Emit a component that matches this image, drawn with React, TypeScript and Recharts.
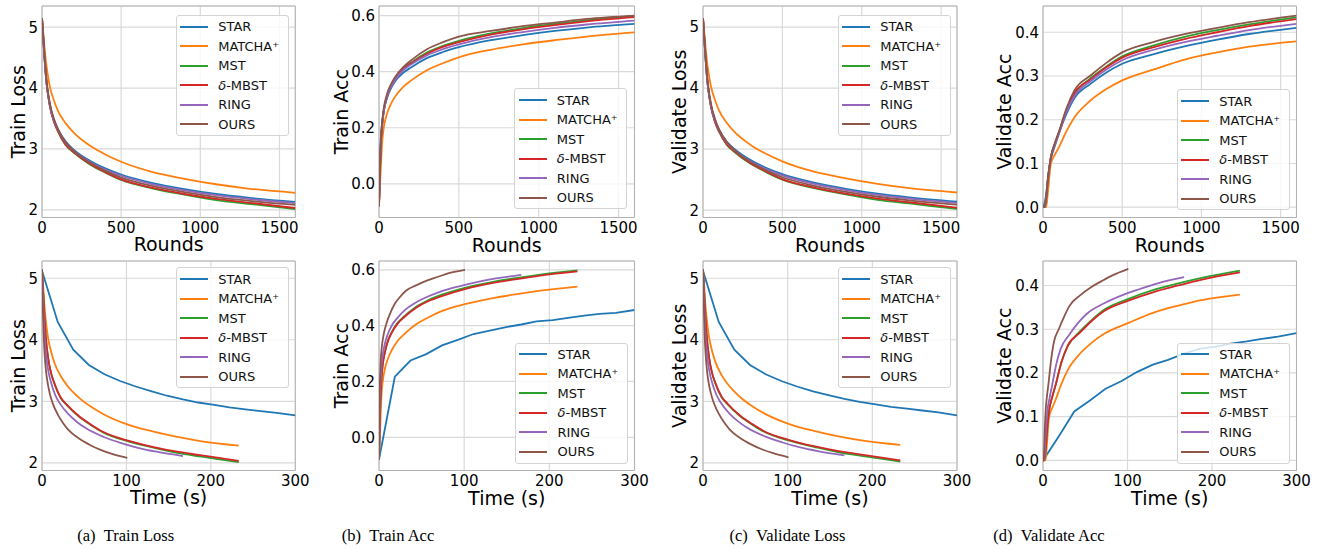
import React from 'react';
import { LineChart, Line, XAxis, YAxis, CartesianGrid, ReferenceArea, Legend } from 'recharts';

const FONT = '"DejaVu Sans", sans-serif';

const seriesNames = ['STAR', 'MATCHA⁺', 'MST', 'δ-MBST', 'RING', 'OURS'];
const seriesColors = ['#1f77b4', '#ff7f0e', '#2ca02c', '#d62728', '#9467bd', '#8c564b'];

const rounds = [0, 10, 20, 30, 50, 75, 100, 150, 200, 300, 400, 500, 700, 900, 1100, 1300, 1600];
const roundTicks = [0, 500, 1000, 1500];
const timeTicks = [0, 100, 200, 300];
const lossTicks = [2, 3, 4, 5];
const trainAccTicks = [0, 0.2, 0.4, 0.6];
const valAccTicks = [0, 0.1, 0.2, 0.3, 0.4];

// wall-clock time of the logged rounds (MATCHA+/MST/δ-MBST finish at 233 s, RING at 167 s, OURS at 101 s)
const timeSlow = [0, 1.5, 2.9, 4.4, 7.3, 10.9, 14.6, 21.8, 29.1, 43.7, 58.2, 72.8, 101.9, 131.0, 160.2, 189.3, 233];
const timeRing = [0, 1.0, 2.1, 3.1, 5.2, 7.8, 10.4, 15.7, 20.9, 31.3, 41.8, 52.2, 73.1, 94.0, 114.8, 135.7, 167];
const timeOurs = [0, 0.6, 1.3, 1.9, 3.2, 4.7, 6.3, 9.5, 12.6, 18.9, 25.3, 31.6, 44.2, 56.8, 69.4, 82.0, 101];
const timeStar = [0, 18.6, 37, 55.5, 74, 92.5, 111, 130, 148, 167, 185, 204, 222, 241, 259, 278, 300];

// train loss
const trainLossStar = [5.15, 4.72, 4.33, 4.05, 3.72, 3.48, 3.33, 3.12, 2.99, 2.81, 2.68, 2.58, 2.44, 2.34, 2.26, 2.2, 2.13];
const trainLossMatcha = [5.15, 4.85, 4.55, 4.33, 4.02, 3.8, 3.63, 3.42, 3.27, 3.06, 2.91, 2.79, 2.62, 2.51, 2.42, 2.35, 2.28];
const trainLossMst = [5.15, 4.74, 4.36, 4.06, 3.7, 3.45, 3.29, 3.06, 2.94, 2.75, 2.61, 2.49, 2.35, 2.25, 2.16, 2.1, 2.01];
const trainLossMbst = [5.15, 4.74, 4.36, 4.06, 3.7, 3.45, 3.3, 3.07, 2.95, 2.76, 2.62, 2.5, 2.36, 2.26, 2.18, 2.12, 2.03];
const trainLossRing = [5.15, 4.72, 4.33, 4.05, 3.71, 3.47, 3.32, 3.1, 2.97, 2.79, 2.66, 2.56, 2.42, 2.32, 2.24, 2.18, 2.11];
const trainLossOurs = [5.15, 4.78, 4.4, 4.1, 3.75, 3.5, 3.33, 3.11, 2.97, 2.78, 2.64, 2.53, 2.39, 2.29, 2.21, 2.15, 2.08];
const trainLossStarTime = [5.12, 4.29, 3.84, 3.59, 3.44, 3.33, 3.24, 3.16, 3.09, 3.03, 2.98, 2.94, 2.9, 2.87, 2.84, 2.81, 2.77];

// train accuracy
const trainAccStar = [-0.08, 0.15, 0.22, 0.26, 0.305, 0.34, 0.365, 0.395, 0.415, 0.448, 0.47, 0.487, 0.512, 0.53, 0.545, 0.557, 0.57];
const trainAccMatcha = [-0.08, 0.04, 0.15, 0.2, 0.25, 0.285, 0.31, 0.345, 0.368, 0.405, 0.43, 0.451, 0.478, 0.497, 0.512, 0.525, 0.54];
const trainAccMst = [-0.08, 0.12, 0.21, 0.26, 0.31, 0.35, 0.375, 0.41, 0.432, 0.468, 0.492, 0.51, 0.536, 0.555, 0.57, 0.583, 0.598];
const trainAccMbst = [-0.08, 0.12, 0.21, 0.26, 0.31, 0.348, 0.372, 0.407, 0.429, 0.464, 0.488, 0.505, 0.532, 0.551, 0.566, 0.579, 0.594];
const trainAccRing = [-0.08, 0.13, 0.21, 0.26, 0.31, 0.346, 0.37, 0.404, 0.425, 0.458, 0.48, 0.497, 0.523, 0.541, 0.556, 0.568, 0.582];
const trainAccOurs = [-0.08, 0.13, 0.22, 0.27, 0.32, 0.355, 0.38, 0.415, 0.44, 0.48, 0.505, 0.525, 0.545, 0.562, 0.575, 0.588, 0.6];
const trainAccStarTime = [-0.08, 0.217, 0.275, 0.298, 0.329, 0.349, 0.37, 0.382, 0.394, 0.404, 0.415, 0.42, 0.428, 0.436, 0.442, 0.446, 0.456];

// validate loss
const valLossStar = [5.15, 4.72, 4.33, 4.05, 3.72, 3.48, 3.33, 3.12, 3.0, 2.82, 2.69, 2.59, 2.45, 2.35, 2.27, 2.21, 2.14];
const valLossMatcha = [5.15, 4.86, 4.56, 4.34, 4.03, 3.81, 3.64, 3.43, 3.28, 3.07, 2.92, 2.8, 2.63, 2.52, 2.43, 2.36, 2.29];
const valLossMst = [5.15, 4.74, 4.36, 4.06, 3.7, 3.45, 3.29, 3.07, 2.95, 2.76, 2.62, 2.5, 2.36, 2.26, 2.17, 2.11, 2.02];
const valLossMbst = [5.15, 4.74, 4.36, 4.06, 3.7, 3.45, 3.3, 3.08, 2.96, 2.77, 2.63, 2.51, 2.37, 2.27, 2.19, 2.13, 2.04];
const valLossRing = [5.15, 4.72, 4.33, 4.05, 3.71, 3.47, 3.32, 3.11, 2.98, 2.8, 2.67, 2.57, 2.43, 2.33, 2.25, 2.19, 2.12];
const valLossOurs = [5.15, 4.78, 4.4, 4.1, 3.75, 3.5, 3.33, 3.12, 2.98, 2.79, 2.65, 2.54, 2.4, 2.3, 2.22, 2.16, 2.09];
const valLossStarTime = [5.12, 4.29, 3.84, 3.59, 3.44, 3.33, 3.24, 3.16, 3.1, 3.04, 2.99, 2.95, 2.91, 2.88, 2.85, 2.82, 2.77];

// validate accuracy
const valAccStar = [0.0, 0.01, 0.03, 0.065, 0.11, 0.14, 0.168, 0.215, 0.25, 0.282, 0.308, 0.328, 0.35, 0.368, 0.383, 0.396, 0.41];
const valAccMatcha = [0.0, 0.0, 0.0, 0.03, 0.1, 0.12, 0.137, 0.175, 0.206, 0.244, 0.27, 0.29, 0.315, 0.338, 0.354, 0.367, 0.379];
const valAccMst = [0.0, 0.0, 0.02, 0.06, 0.115, 0.145, 0.17, 0.225, 0.26, 0.295, 0.322, 0.345, 0.37, 0.39, 0.405, 0.418, 0.434];
const valAccMbst = [0.0, 0.0, 0.02, 0.06, 0.115, 0.145, 0.17, 0.224, 0.262, 0.292, 0.32, 0.342, 0.366, 0.385, 0.4, 0.414, 0.43];
const valAccRing = [0.0, 0.0, 0.02, 0.06, 0.113, 0.143, 0.168, 0.22, 0.255, 0.288, 0.315, 0.336, 0.36, 0.378, 0.392, 0.405, 0.419];
const valAccOurs = [0.0, 0.0, 0.02, 0.06, 0.115, 0.147, 0.172, 0.228, 0.268, 0.301, 0.33, 0.354, 0.378, 0.396, 0.41, 0.423, 0.438];
const valAccStarTime = [0.0, 0.055, 0.112, 0.137, 0.164, 0.181, 0.202, 0.219, 0.23, 0.244, 0.255, 0.26, 0.267, 0.272, 0.278, 0.283, 0.291];

type Series = { xs: number[]; ys: number[]; linear?: boolean };

const zip = (xs: number[], ys: number[]) => xs.map((x, i) => ({ x, y: ys[i] }));

const byRounds = (vals: number[][]): Series[] => vals.map((ys) => ({ xs: rounds, ys }));
const byTime = (starTime: number[], vals: number[][]): Series[] => [
  { xs: timeStar, ys: starTime, linear: true },
  { xs: timeSlow, ys: vals[1] },
  { xs: timeSlow, ys: vals[2] },
  { xs: timeSlow, ys: vals[3] },
  { xs: timeRing, ys: vals[4] },
  { xs: timeOurs, ys: vals[5] },
];

const trainLoss = [trainLossStar, trainLossMatcha, trainLossMst, trainLossMbst, trainLossRing, trainLossOurs];
const trainAcc = [trainAccStar, trainAccMatcha, trainAccMst, trainAccMbst, trainAccRing, trainAccOurs];
const valLoss = [valLossStar, valLossMatcha, valLossMst, valLossMbst, valLossRing, valLossOurs];
const valAcc = [valAccStar, valAccMatcha, valAccMst, valAccMbst, valAccRing, valAccOurs];

const renderName = (name: string) =>
  name.startsWith('δ') ? (
    <>
      <i>δ</i>
      {name.slice(1)}
    </>
  ) : (
    name
  );

// legend keeps the plotting order (recharts would sort the payload by name)
const LegendBox = () => (
  <div
    style={{
      background: 'rgba(255,255,255,0.8)',
      border: '1px solid #d4d4d4',
      borderRadius: 3,
      padding: '1px 0',
      width: 111,
      boxSizing: 'content-box',
      fontFamily: FONT,
      fontSize: 13,
      color: '#111',
    }}
  >
    {seriesNames.map((name, i) => (
      <div key={name} style={{ height: 19.5, display: 'flex', alignItems: 'center', whiteSpace: 'nowrap' }}>
        <span style={{ display: 'inline-block', width: 28, height: 2, background: seriesColors[i], marginLeft: 3.5, marginRight: 10 }} />
        <span>{renderName(name)}</span>
      </div>
    ))}
  </div>
);

interface PanelProps {
  left: number;
  top: number;
  width: number;
  height: number;
  xMax: number;
  xTicks: number[];
  yDomain: [number, number];
  yTicks: number[];
  yFormat?: (v: number) => string;
  xLabel: string;
  yLabel: string;
  yLabelAt: number;
  legendAt: [number, number];
  series: Series[];
}

const YW = 64;
const MT = 10;
const MR = 28;
const XH = 50;

const Panel = ({ left, top, width, height, xMax, xTicks, yDomain, yTicks, yFormat, xLabel, yLabel, yLabelAt, legendAt, series }: PanelProps) => {
  const chartLeft = left - YW;
  const chartTop = top - MT;
  const tickStyle = { fill: '#000', fontSize: 15, fontFamily: FONT };
  return (
    <div style={{ position: 'absolute', left: chartLeft, top: chartTop }}>
      <LineChart width={YW + width + MR} height={MT + height + XH} margin={{ top: MT, right: MR, left: 0, bottom: 0 }}>
        <CartesianGrid stroke="#dadada" strokeWidth={1.2} />
        <XAxis
          type="number"
          dataKey="x"
          domain={[0, xMax]}
          ticks={xTicks}
          interval={0}
          allowDataOverflow
          height={XH}
          axisLine={false}
          tickLine={false}
          tickSize={0}
          tickMargin={5}
          tick={tickStyle}
          label={{ value: xLabel, position: 'insideBottom', offset: 16, style: { fill: '#000', fontSize: 19, fontFamily: FONT } }}
        />
        <YAxis
          type="number"
          domain={yDomain}
          ticks={yTicks}
          interval={0}
          allowDataOverflow
          width={YW}
          axisLine={false}
          tickLine={false}
          tickSize={0}
          tickMargin={4}
          tick={tickStyle}
          tickFormatter={yFormat}
          label={{
            value: yLabel,
            angle: -90,
            position: 'insideLeft',
            offset: yLabelAt - chartLeft,
            style: { textAnchor: 'middle', fill: '#000', fontSize: 19, fontFamily: FONT },
          }}
        />
        {series.map((s, i) => (
          <Line
            key={seriesNames[i]}
            name={seriesNames[i]}
            data={zip(s.xs, s.ys)}
            dataKey="y"
            type={s.linear ? 'linear' : 'monotone'}
            stroke={seriesColors[i]}
            strokeWidth={1.8}
            dot={false}
            isAnimationActive={false}
          />
        ))}
        <ReferenceArea x1={0} x2={xMax} y1={yDomain[0]} y2={yDomain[1]} fill="none" stroke="#b3b3b3" strokeWidth={1} ifOverflow="visible" />
        <Legend
          layout="vertical"
          align="center"
          verticalAlign="middle"
          content={LegendBox}
          wrapperStyle={{ left: legendAt[0] - chartLeft, top: legendAt[1] - chartTop, width: 113 }}
        />
      </LineChart>
    </div>
  );
};

const acc = (v: number) => v.toFixed(1);

const captionStyle: React.CSSProperties = {
  position: 'absolute',
  top: 528,
  width: 240,
  textAlign: 'center',
  fontFamily: '"Liberation Serif", "Times New Roman", serif',
  fontSize: 16.5,
  lineHeight: 1,
  color: '#000',
  whiteSpace: 'nowrap',
};

const TOP = 5.5;
const TOP_H = 211.5;
const BOT = 260.5;
const BOT_H = 209.5;

export default function App() {
  return (
    <div style={{ position: 'absolute', left: 0, top: 0, width: 1323, height: 550, background: '#fff', overflow: 'hidden' }}>
      {/* (a) train loss */}
      <Panel left={41.7} top={TOP} width={253.3} height={TOP_H} xMax={1600} xTicks={roundTicks} yDomain={[1.874, 5.348]} yTicks={lossTicks}
        xLabel="Rounds" yLabel="Train Loss" yLabelAt={18.3} legendAt={[175.7, 15]} series={byRounds(trainLoss)} />
      <Panel left={41.7} top={BOT} width={253.3} height={BOT_H} xMax={300} xTicks={timeTicks} yDomain={[1.875, 5.28]} yTicks={lossTicks}
        xLabel="Time (s)" yLabel="Train Loss" yLabelAt={18.3} legendAt={[175.7, 267.3]} series={byTime(trainLossStarTime, trainLoss)} />

      {/* (b) train acc */}
      <Panel left={379.3} top={TOP} width={255.5} height={TOP_H} xMax={1600} xTicks={roundTicks} yDomain={[-0.12, 0.634]} yTicks={trainAccTicks} yFormat={acc}
        xLabel="Rounds" yLabel="Train Acc" yLabelAt={341.2} legendAt={[514.3, 88.3]} series={byRounds(trainAcc)} />
      <Panel left={379.3} top={BOT} width={255.5} height={BOT_H} xMax={300} xTicks={timeTicks} yDomain={[-0.119, 0.6315]} yTicks={trainAccTicks} yFormat={acc}
        xLabel="Time (s)" yLabel="Train Acc" yLabelAt={341.2} legendAt={[515, 342.7]} series={byTime(trainAccStarTime, trainAcc)} />

      {/* (c) validate loss */}
      <Panel left={703.3} top={TOP} width={254} height={TOP_H} xMax={1600} xTicks={roundTicks} yDomain={[1.88, 5.346]} yTicks={lossTicks}
        xLabel="Rounds" yLabel="Validate Loss" yLabelAt={680} legendAt={[837.7, 15]} series={byRounds(valLoss)} />
      <Panel left={703.3} top={BOT} width={254} height={BOT_H} xMax={300} xTicks={timeTicks} yDomain={[1.875, 5.28]} yTicks={lossTicks}
        xLabel="Time (s)" yLabel="Validate Loss" yLabelAt={680} legendAt={[837.7, 267.3]} series={byTime(valLossStarTime, valLoss)} />

      {/* (d) validate acc */}
      <Panel left={1042.5} top={TOP} width={253.5} height={TOP_H} xMax={1600} xTicks={roundTicks} yDomain={[-0.0235, 0.46]} yTicks={valAccTicks} yFormat={acc}
        xLabel="Rounds" yLabel="Validate Acc" yLabelAt={1004} legendAt={[1176.7, 89.3]} series={byRounds(valAcc)} />
      <Panel left={1042.5} top={BOT} width={253.5} height={BOT_H} xMax={300} xTicks={timeTicks} yDomain={[-0.023, 0.456]} yTicks={valAccTicks} yFormat={acc}
        xLabel="Time (s)" yLabel="Validate Acc" yLabelAt={1004} legendAt={[1176.7, 342.7]} series={byTime(valAccStarTime, valAcc)} />

      <div style={{ ...captionStyle, left: 125.7 - 120 }}>(a)&ensp;Train Loss</div>
      <div style={{ ...captionStyle, left: 388 - 120 }}>(b)&ensp;Train Acc</div>
      <div style={{ ...captionStyle, left: 787.5 - 120 }}>(c)&ensp;Validate Loss</div>
      <div style={{ ...captionStyle, left: 1049 - 120 }}>(d)&ensp;Validate Acc</div>
    </div>
  );
}
